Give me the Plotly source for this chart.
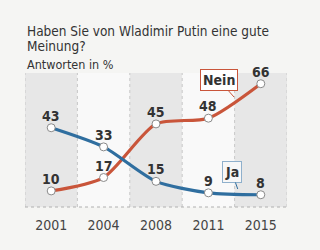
import plotly.graph_objects as go

years = ["2001", "2004", "2008", "2011", "2015"]
ja = [43, 33, 15, 9, 8]
nein = [10, 17, 45, 48, 66]

FONT = "DejaVu Sans Condensed, Liberation Sans Narrow, Liberation Sans, sans-serif"
BLUE = "#2f6e9f"
RED = "#c9553a"
xs = list(range(len(years)))

fig = go.Figure()

# alternating column shading
for i in xs:
    fig.add_shape(type="rect", xref="x", yref="paper", x0=i - 0.5, x1=i + 0.5, y0=0, y1=1,
                  fillcolor="#e7e7e7" if i % 2 == 0 else "#f9f9f9", line_width=0, layer="below")
for i in range(len(years) + 1):
    fig.add_shape(type="line", xref="x", yref="paper", x0=i - 0.5, x1=i - 0.5, y0=0, y1=1,
                  line=dict(color="#c8c8c8", width=1, dash="dot"), layer="below")
fig.add_shape(type="line", xref="paper", yref="paper", x0=0, x1=1, y0=0, y1=0,
              line=dict(color="#b0b0b0", width=1, dash="dot"), layer="below")

for vals, col in [(nein, RED), (ja, BLUE)]:
    fig.add_trace(go.Scatter(
        x=xs, y=vals, mode="lines+markers",
        line=dict(color=col, width=3.2, shape="spline", smoothing=0.7),
        marker=dict(size=8, color="white", line=dict(color="#8a8a8a", width=1)),
        cliponaxis=False, hoverinfo="skip"))
    for xi, v in zip(xs, vals):
        fig.add_annotation(x=xi, y=v, text=f"<b>{v}</b>", showarrow=False, yshift=12,
                           font=dict(family=FONT, size=14, color="#333333"))

fig.add_annotation(x=3.49, y=59, ax=-15, ay=-17, text="<b>Nein</b>", showarrow=True,
                   arrowhead=0, arrowcolor=RED, arrowwidth=1,
                   bgcolor="white", bordercolor=RED, borderwidth=1, borderpad=2,
                   font=dict(family=FONT, size=14, color="#333333"))
fig.add_annotation(x=3.56, y=11, ax=-6, ay=-17, text="<b>Ja</b>", showarrow=True,
                   arrowhead=0, arrowcolor=BLUE, arrowwidth=1,
                   bgcolor="#f7f7f7", bordercolor="#8fb0cc", borderwidth=1, borderpad=2,
                   font=dict(family=FONT, size=14, color="#333333"))

fig.add_annotation(xref="paper", yref="paper", x=0.004, y=1.38, xanchor="left", yanchor="top",
                   text="Haben Sie von Wladimir Putin eine gute", showarrow=False, borderpad=0,
                   font=dict(family=FONT, size=13.5, color="#333333"))
fig.add_annotation(xref="paper", yref="paper", x=0.004, y=1.265, xanchor="left", yanchor="top",
                   text="Meinung?", showarrow=False, borderpad=0,
                   font=dict(family=FONT, size=13.5, color="#333333"))
fig.add_annotation(xref="paper", yref="paper", x=0.004, y=1.13, xanchor="left", yanchor="top",
                   text="Antworten in %", showarrow=False, borderpad=0,
                   font=dict(family=FONT, size=12.5, color="#333333"))

fig.update_layout(
    width=320, height=250,
    margin=dict(l=25, r=33, t=73, b=43),
    paper_bgcolor="#f5f5f3", plot_bgcolor="#f5f5f3",
    showlegend=False,
    xaxis=dict(range=[-0.5, 4.5], tickvals=xs, ticktext=years, showgrid=False, zeroline=False,
               showline=False, ticks="", ticklabelstandoff=8,
               tickfont=dict(family=FONT, size=14, color="#444444"),
               fixedrange=True),
    yaxis=dict(range=[1.6, 71.6], visible=False, fixedrange=True),
)

fig.write_html("out.html")
